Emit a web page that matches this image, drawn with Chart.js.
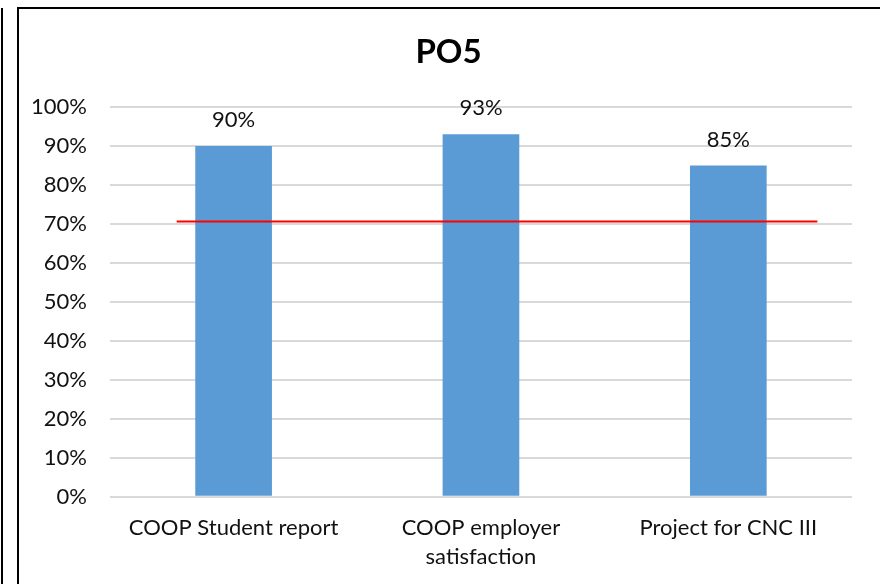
<!DOCTYPE html>
<html>
<head>
<meta charset="utf-8">
<script src="https://cdn.jsdelivr.net/npm/chart.js@4/dist/chart.umd.min.js"></script>
<style>
    body { margin: 0; background: #fff; overflow: hidden; }
    #wrap { position: relative; width: 880px; height: 584px; }
    #chart { position: absolute; left: 0; top: 0; }
    #frame { position: absolute; left: 17px; top: 7px; right: -10px; bottom: -10px; border: 2px solid #000; }
    #edge { position: absolute; left: 1px; top: 8px; width: 2px; bottom: 0; background: #000; }
</style>
</head>
<body>
<div id="wrap">
    <canvas id="chart" width="880" height="584"></canvas>
    <div id="frame"></div>
    <div id="edge"></div>
</div>
<script>
// Chart data
const chartTitle = 'PO5';
const categories = ['COOP Student report', ['COOP employer', 'satisfaction'], 'Project for CNC III'];
const scores = [90, 93, 85];
const yTicks = [0, 10, 20, 30, 40, 50, 60, 70, 80, 90, 100];
// Target line: value and the span it covers, in category index units
const targetValue = [70.6];
const targetSpan = [-0.23, 2.36];

const FONT = 'Lato, "Noto Sans", sans-serif';

// Title centred over the framed area
const titlePlugin = {
    id: 'titlePlugin',
    afterDraw(chart) {
        const ctx = chart.ctx;
        ctx.save();
        ctx.font = 'bold 33px ' + FONT;
        ctx.fillStyle = '#000';
        ctx.textAlign = 'center';
        ctx.textBaseline = 'middle';
        ctx.fillText(chartTitle, (chart.width + 17) / 2, 52);
        ctx.restore();
    }
};

// Draw the value above each bar
const valueLabels = {
    id: 'valueLabels',
    afterDatasetsDraw(chart) {
        const ctx = chart.ctx;
        const meta = chart.getDatasetMeta(0);
        ctx.save();
        ctx.font = '22px ' + FONT;
        ctx.fillStyle = '#111';
        ctx.textAlign = 'center';
        ctx.textBaseline = 'middle';
        meta.data.forEach((bar, i) => {
            ctx.fillText(scores[i] + '%', bar.x, bar.y - 26);
        });
        ctx.restore();
    }
};

// Red target line drawn over the bars
const targetLine = {
    id: 'targetLine',
    afterDatasetsDraw(chart) {
        const ctx = chart.ctx;
        const x = chart.scales.x;
        const y = chart.scales.y;
        const py = y.getPixelForValue(targetValue[0]);
        ctx.save();
        ctx.strokeStyle = '#ff0000';
        ctx.lineWidth = 2;
        ctx.beginPath();
        ctx.moveTo(x.getPixelForValue(targetSpan[0]), py);
        ctx.lineTo(x.getPixelForValue(targetSpan[1]), py);
        ctx.stroke();
        ctx.restore();
    }
};

new Chart(document.getElementById('chart'), {
    type: 'bar',
    data: {
        labels: categories,
        datasets: [{
            data: scores,
            backgroundColor: '#5b9bd5',
            barPercentage: 0.62,
            categoryPercentage: 0.5
        }]
    },
    options: {
        responsive: false,
        animation: false,
        layout: { padding: { left: 8, right: 28, top: 107, bottom: -4 } },
        plugins: {
            legend: { display: false },
            tooltip: { enabled: false },
            title: { display: false }
        },
        scales: {
            x: {
                grid: { display: false, drawTicks: false },
                border: { display: false },
                ticks: {
                    color: '#111',
                    font: { family: FONT, size: 22, lineHeight: 1.3 },
                    padding: 17,
                    maxRotation: 0
                }
            },
            y: {
                min: yTicks[0],
                max: yTicks[yTicks.length - 1],
                afterBuildTicks(axis) {
                    axis.ticks = yTicks.map(v => ({ value: v }));
                },
                grid: { color: '#d9d9d9', lineWidth: 2, drawTicks: false },
                border: { display: false },
                ticks: {
                    color: '#111',
                    font: { family: FONT, size: 22 },
                    padding: 23,
                    callback: v => v + '%'
                }
            }
        }
    },
    plugins: [valueLabels, targetLine, titlePlugin]
});
</script>
</body>
</html>
